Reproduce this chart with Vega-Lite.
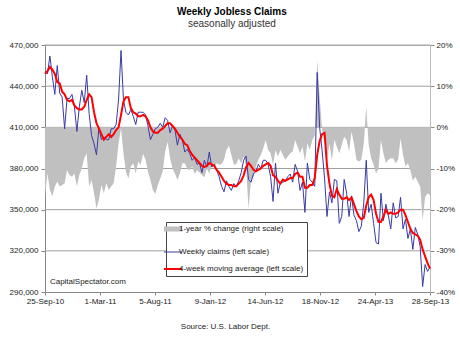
{
  "$schema": "https://vega.github.io/schema/vega-lite/v6.json",
  "autosize": "none",
  "width": 385,
  "height": 247,
  "padding": {"left": 45, "top": 45, "right": 30, "bottom": 49},
  "background": "white",
  "config": {
    "font": "Liberation Sans",
    "view": {"stroke": "#bbbbbb", "strokeWidth": 1}
  },
  "title": {
    "text": "Weekly Jobless Claims",
    "subtitle": "seasonally adjusted",
    "font": "Liberation Sans",
    "fontSize": 10,
    "fontWeight": "bold",
    "color": "#000000",
    "subtitleFont": "Liberation Sans",
    "subtitleFontSize": 10,
    "subtitleColor": "#333333",
    "subtitlePadding": 2,
    "anchor": "middle",
    "frame": "bounds",
    "offset": 12
  },
  "data": {
    "values": [
      {"date": "2010-09-25", "claims": 451000, "avg": 449000, "pct": -16.8},
      {"date": "2010-10-02", "claims": 449000, "avg": 451000, "pct": -11.2},
      {"date": "2010-10-09", "claims": 462000, "avg": 454000, "pct": -15.2},
      {"date": "2010-10-16", "claims": 447000, "avg": 452000, "pct": -16.8},
      {"date": "2010-10-23", "claims": 434000, "avg": 449000, "pct": -14.4},
      {"date": "2010-10-30", "claims": 455000, "avg": 443000, "pct": -13.2},
      {"date": "2010-11-06", "claims": 435000, "avg": 442000, "pct": -14.4},
      {"date": "2010-11-13", "claims": 432000, "avg": 436000, "pct": -14.0},
      {"date": "2010-11-20", "claims": 409000, "avg": 434000, "pct": -13.6},
      {"date": "2010-11-27", "claims": 431000, "avg": 430000, "pct": -10.4},
      {"date": "2010-12-04", "claims": 431000, "avg": 429000, "pct": -11.6},
      {"date": "2010-12-11", "claims": 434000, "avg": 430000, "pct": -12.0},
      {"date": "2010-12-18", "claims": 425000, "avg": 426000, "pct": -11.2},
      {"date": "2010-12-25", "claims": 407000, "avg": 424000, "pct": -14.4},
      {"date": "2011-01-01", "claims": 425000, "avg": 423000, "pct": -11.6},
      {"date": "2011-01-08", "claims": 437000, "avg": 423000, "pct": -10.0},
      {"date": "2011-01-15", "claims": 428000, "avg": 425000, "pct": -7.5},
      {"date": "2011-01-22", "claims": 448000, "avg": 430000, "pct": -6.3},
      {"date": "2011-01-29", "claims": 420000, "avg": 434000, "pct": -14.4},
      {"date": "2011-02-05", "claims": 404000, "avg": 432000, "pct": -12.8},
      {"date": "2011-02-12", "claims": 398000, "avg": 421000, "pct": -16.0},
      {"date": "2011-02-19", "claims": 390000, "avg": 413000, "pct": -19.7},
      {"date": "2011-02-26", "claims": 410000, "avg": 409000, "pct": -17.6},
      {"date": "2011-03-05", "claims": 401000, "avg": 405000, "pct": -14.0},
      {"date": "2011-03-12", "claims": 403000, "avg": 401000, "pct": -16.0},
      {"date": "2011-03-19", "claims": 401000, "avg": 403000, "pct": -13.6},
      {"date": "2011-03-26", "claims": 401000, "avg": 405000, "pct": -15.2},
      {"date": "2011-04-02", "claims": 409000, "avg": 403000, "pct": -14.4},
      {"date": "2011-04-09", "claims": 409000, "avg": 405000, "pct": -13.6},
      {"date": "2011-04-16", "claims": 412000, "avg": 408000, "pct": -9.5},
      {"date": "2011-04-23", "claims": 430000, "avg": 410000, "pct": -3.9},
      {"date": "2011-04-30", "claims": 466000, "avg": 419000, "pct": -0.2},
      {"date": "2011-05-07", "claims": 430000, "avg": 429000, "pct": -6.3},
      {"date": "2011-05-14", "claims": 421000, "avg": 432000, "pct": -10.8},
      {"date": "2011-05-21", "claims": 419000, "avg": 432000, "pct": -12.4},
      {"date": "2011-05-28", "claims": 423000, "avg": 424000, "pct": -9.5},
      {"date": "2011-06-04", "claims": 418000, "avg": 421000, "pct": -8.7},
      {"date": "2011-06-11", "claims": 412000, "avg": 420000, "pct": -11.2},
      {"date": "2011-06-18", "claims": 421000, "avg": 418000, "pct": -8.3},
      {"date": "2011-06-25", "claims": 421000, "avg": 418000, "pct": -9.1},
      {"date": "2011-07-02", "claims": 421000, "avg": 419000, "pct": -6.5},
      {"date": "2011-07-09", "claims": 419000, "avg": 418000, "pct": -7.9},
      {"date": "2011-07-16", "claims": 411000, "avg": 415000, "pct": -10.8},
      {"date": "2011-07-23", "claims": 401000, "avg": 410000, "pct": -12.8},
      {"date": "2011-07-30", "claims": 405000, "avg": 407000, "pct": -15.2},
      {"date": "2011-08-06", "claims": 409000, "avg": 406000, "pct": -16.2},
      {"date": "2011-08-13", "claims": 410000, "avg": 406000, "pct": -14.0},
      {"date": "2011-08-20", "claims": 413000, "avg": 408000, "pct": -12.4},
      {"date": "2011-08-27", "claims": 410000, "avg": 409000, "pct": -10.8},
      {"date": "2011-09-03", "claims": 417000, "avg": 411000, "pct": -5.9},
      {"date": "2011-09-10", "claims": 415000, "avg": 413000, "pct": -3.5},
      {"date": "2011-09-17", "claims": 406000, "avg": 413000, "pct": -7.5},
      {"date": "2011-09-24", "claims": 411000, "avg": 411000, "pct": -10.0},
      {"date": "2011-10-01", "claims": 408000, "avg": 409000, "pct": -11.2},
      {"date": "2011-10-08", "claims": 397000, "avg": 406000, "pct": -12.8},
      {"date": "2011-10-15", "claims": 405000, "avg": 403000, "pct": -11.2},
      {"date": "2011-10-22", "claims": 401000, "avg": 401000, "pct": -8.7},
      {"date": "2011-10-29", "claims": 392000, "avg": 398000, "pct": -8.7},
      {"date": "2011-11-05", "claims": 394000, "avg": 397000, "pct": -10.0},
      {"date": "2011-11-12", "claims": 391000, "avg": 393000, "pct": -10.4},
      {"date": "2011-11-19", "claims": 386000, "avg": 390000, "pct": -9.5},
      {"date": "2011-11-26", "claims": 388000, "avg": 388000, "pct": -11.3},
      {"date": "2011-12-03", "claims": 383000, "avg": 386000, "pct": -10.4},
      {"date": "2011-12-10", "claims": 384000, "avg": 384000, "pct": -11.0},
      {"date": "2011-12-17", "claims": 377000, "avg": 382000, "pct": -11.6},
      {"date": "2011-12-24", "claims": 386000, "avg": 381000, "pct": -12.1},
      {"date": "2011-12-31", "claims": 381000, "avg": 382000, "pct": -10.0},
      {"date": "2012-01-07", "claims": 392000, "avg": 384000, "pct": -11.2},
      {"date": "2012-01-14", "claims": 381000, "avg": 383000, "pct": -9.1},
      {"date": "2012-01-21", "claims": 383000, "avg": 382000, "pct": -9.5},
      {"date": "2012-01-28", "claims": 379000, "avg": 379000, "pct": -8.7},
      {"date": "2012-02-04", "claims": 374000, "avg": 377000, "pct": -9.1},
      {"date": "2012-02-11", "claims": 367000, "avg": 374000, "pct": -8.9},
      {"date": "2012-02-18", "claims": 363000, "avg": 371000, "pct": -7.9},
      {"date": "2012-02-25", "claims": 371000, "avg": 369000, "pct": -5.5},
      {"date": "2012-03-03", "claims": 367000, "avg": 368000, "pct": -4.5},
      {"date": "2012-03-10", "claims": 364000, "avg": 368000, "pct": -6.7},
      {"date": "2012-03-17", "claims": 369000, "avg": 367000, "pct": -9.1},
      {"date": "2012-03-24", "claims": 367000, "avg": 367000, "pct": -8.9},
      {"date": "2012-03-31", "claims": 371000, "avg": 369000, "pct": -7.5},
      {"date": "2012-04-07", "claims": 377000, "avg": 371000, "pct": -8.7},
      {"date": "2012-04-14", "claims": 386000, "avg": 375000, "pct": -7.1},
      {"date": "2012-04-21", "claims": 389000, "avg": 381000, "pct": -9.5},
      {"date": "2012-04-28", "claims": 372000, "avg": 384000, "pct": -19.7},
      {"date": "2012-05-05", "claims": 370000, "avg": 382000, "pct": -12.8},
      {"date": "2012-05-12", "claims": 376000, "avg": 379000, "pct": -12.0},
      {"date": "2012-05-19", "claims": 378000, "avg": 378000, "pct": -9.5},
      {"date": "2012-05-26", "claims": 383000, "avg": 379000, "pct": -7.9},
      {"date": "2012-06-02", "claims": 380000, "avg": 380000, "pct": -6.7},
      {"date": "2012-06-09", "claims": 386000, "avg": 382000, "pct": -5.1},
      {"date": "2012-06-16", "claims": 386000, "avg": 383000, "pct": -3.1},
      {"date": "2012-06-23", "claims": 383000, "avg": 384000, "pct": -5.5},
      {"date": "2012-06-30", "claims": 374000, "avg": 382000, "pct": -6.3},
      {"date": "2012-07-07", "claims": 356000, "avg": 375000, "pct": -9.1},
      {"date": "2012-07-14", "claims": 384000, "avg": 374000, "pct": -5.5},
      {"date": "2012-07-21", "claims": 362000, "avg": 371000, "pct": -7.1},
      {"date": "2012-07-28", "claims": 370000, "avg": 369000, "pct": -5.5},
      {"date": "2012-08-04", "claims": 370000, "avg": 372000, "pct": -6.7},
      {"date": "2012-08-11", "claims": 371000, "avg": 371000, "pct": -7.9},
      {"date": "2012-08-18", "claims": 374000, "avg": 372000, "pct": -7.1},
      {"date": "2012-08-25", "claims": 376000, "avg": 373000, "pct": -6.3},
      {"date": "2012-09-01", "claims": 370000, "avg": 373000, "pct": -5.9},
      {"date": "2012-09-08", "claims": 383000, "avg": 376000, "pct": -3.1},
      {"date": "2012-09-15", "claims": 378000, "avg": 377000, "pct": -4.7},
      {"date": "2012-09-22", "claims": 364000, "avg": 374000, "pct": -6.3},
      {"date": "2012-09-29", "claims": 370000, "avg": 374000, "pct": -4.7},
      {"date": "2012-10-06", "claims": 348000, "avg": 366000, "pct": -8.3},
      {"date": "2012-10-13", "claims": 384000, "avg": 366000, "pct": -3.9},
      {"date": "2012-10-20", "claims": 372000, "avg": 368000, "pct": -5.5},
      {"date": "2012-10-27", "claims": 370000, "avg": 368000, "pct": -3.1},
      {"date": "2012-11-03", "claims": 367000, "avg": 373000, "pct": -1.9},
      {"date": "2012-11-10", "claims": 450000, "avg": 390000, "pct": 16.3},
      {"date": "2012-11-17", "claims": 410000, "avg": 400000, "pct": 7.4},
      {"date": "2012-11-24", "claims": 393000, "avg": 405000, "pct": -0.6},
      {"date": "2012-12-01", "claims": 373000, "avg": 406000, "pct": -3.5},
      {"date": "2012-12-08", "claims": 345000, "avg": 382000, "pct": -8.0},
      {"date": "2012-12-15", "claims": 363000, "avg": 369000, "pct": -4.0},
      {"date": "2012-12-22", "claims": 355000, "avg": 360000, "pct": -8.0},
      {"date": "2012-12-29", "claims": 372000, "avg": 359000, "pct": -3.0},
      {"date": "2013-01-05", "claims": 371000, "avg": 365000, "pct": -4.7},
      {"date": "2013-01-12", "claims": 340000, "avg": 361000, "pct": -6.3},
      {"date": "2013-01-19", "claims": 345000, "avg": 358000, "pct": -4.3},
      {"date": "2013-01-26", "claims": 372000, "avg": 358000, "pct": -2.3},
      {"date": "2013-02-02", "claims": 362000, "avg": 359000, "pct": -3.1},
      {"date": "2013-02-09", "claims": 345000, "avg": 357000, "pct": -5.9},
      {"date": "2013-02-16", "claims": 360000, "avg": 359000, "pct": -1.1},
      {"date": "2013-02-23", "claims": 346000, "avg": 354000, "pct": -3.9},
      {"date": "2013-03-02", "claims": 342000, "avg": 349000, "pct": -7.9},
      {"date": "2013-03-09", "claims": 334000, "avg": 345000, "pct": -8.3},
      {"date": "2013-03-16", "claims": 338000, "avg": 343000, "pct": -7.9},
      {"date": "2013-03-23", "claims": 355000, "avg": 344000, "pct": -3.9},
      {"date": "2013-03-30", "claims": 386000, "avg": 353000, "pct": 5.0},
      {"date": "2013-04-06", "claims": 348000, "avg": 359000, "pct": -4.3},
      {"date": "2013-04-13", "claims": 354000, "avg": 361000, "pct": -7.5},
      {"date": "2013-04-20", "claims": 340000, "avg": 357000, "pct": -9.1},
      {"date": "2013-04-27", "claims": 326000, "avg": 347000, "pct": -11.2},
      {"date": "2013-05-04", "claims": 325000, "avg": 341000, "pct": -10.0},
      {"date": "2013-05-11", "claims": 362000, "avg": 341000, "pct": -3.1},
      {"date": "2013-05-18", "claims": 342000, "avg": 345000, "pct": -6.3},
      {"date": "2013-05-25", "claims": 354000, "avg": 350000, "pct": -8.7},
      {"date": "2013-06-01", "claims": 346000, "avg": 347000, "pct": -7.9},
      {"date": "2013-06-08", "claims": 336000, "avg": 348000, "pct": -7.5},
      {"date": "2013-06-15", "claims": 355000, "avg": 347000, "pct": -7.5},
      {"date": "2013-06-22", "claims": 344000, "avg": 347000, "pct": -8.7},
      {"date": "2013-06-29", "claims": 345000, "avg": 348000, "pct": -7.9},
      {"date": "2013-07-06", "claims": 359000, "avg": 350000, "pct": -2.7},
      {"date": "2013-07-13", "claims": 336000, "avg": 350000, "pct": -6.7},
      {"date": "2013-07-20", "claims": 343000, "avg": 346000, "pct": -9.5},
      {"date": "2013-07-27", "claims": 329000, "avg": 341000, "pct": -8.7},
      {"date": "2013-08-03", "claims": 336000, "avg": 336000, "pct": -10.4},
      {"date": "2013-08-10", "claims": 321000, "avg": 333000, "pct": -13.0},
      {"date": "2013-08-17", "claims": 337000, "avg": 332000, "pct": -12.0},
      {"date": "2013-08-24", "claims": 332000, "avg": 331000, "pct": -13.2},
      {"date": "2013-08-31", "claims": 323000, "avg": 328000, "pct": -14.4},
      {"date": "2013-09-07", "claims": 294000, "avg": 321000, "pct": -22.5},
      {"date": "2013-09-14", "claims": 310000, "avg": 316000, "pct": -17.0},
      {"date": "2013-09-21", "claims": 305000, "avg": 311000, "pct": -16.0},
      {"date": "2013-09-28", "claims": 308000, "avg": 307000, "pct": -16.5}
    ]
  },
  "layer": [
    {
      "data": {"values": [{}]},
      "mark": {"type": "rule", "color": "#a0a0a0", "strokeWidth": 1},
      "encoding": {
        "y": {"datum": 320000, "type": "quantitative", "scale": {"domain": [290000, 470000], "nice": false, "zero": false}, "axis": null}
      }
    },
    {
      "data": {"values": [{}]},
      "mark": {"type": "rule", "color": "#a0a0a0", "strokeWidth": 1},
      "encoding": {
        "y": {"datum": 350000, "type": "quantitative", "scale": {"domain": [290000, 470000], "nice": false, "zero": false}, "axis": null}
      }
    },
    {
      "data": {"values": [{}]},
      "mark": {"type": "rule", "color": "#a0a0a0", "strokeWidth": 1},
      "encoding": {
        "y": {"datum": 380000, "type": "quantitative", "scale": {"domain": [290000, 470000], "nice": false, "zero": false}, "axis": null}
      }
    },
    {
      "data": {"values": [{}]},
      "mark": {"type": "rule", "color": "#a0a0a0", "strokeWidth": 1},
      "encoding": {
        "y": {"datum": 410000, "type": "quantitative", "scale": {"domain": [290000, 470000], "nice": false, "zero": false}, "axis": null}
      }
    },
    {
      "data": {"values": [{}]},
      "mark": {"type": "rule", "color": "#a0a0a0", "strokeWidth": 1},
      "encoding": {
        "y": {"datum": 440000, "type": "quantitative", "scale": {"domain": [290000, 470000], "nice": false, "zero": false}, "axis": null}
      }
    },
    {
      "data": {"values": [{}]},
      "mark": {"type": "rule", "color": "#a0a0a0", "strokeWidth": 1},
      "encoding": {
        "y": {"datum": 470000, "type": "quantitative", "scale": {"domain": [290000, 470000], "nice": false, "zero": false}, "axis": null}
      }
    },
    {
      "mark": {"type": "area", "interpolate": "linear"},
      "encoding": {
        "x": {
          "field": "date",
          "type": "temporal",
          "scale": {
            "type": "utc",
            "domain": ["2010-09-25", "2013-09-28"],
            "nice": false
          },
          "axis": {
            "values": [
              {"year": 2010, "month": 9, "date": 25, "utc": true},
              {"year": 2011, "month": 3, "date": 1, "utc": true},
              {"year": 2011, "month": 8, "date": 5, "utc": true},
              {"year": 2012, "month": 1, "date": 9, "utc": true},
              {"year": 2012, "month": 6, "date": 14, "utc": true},
              {"year": 2012, "month": 11, "date": 18, "utc": true},
              {"year": 2013, "month": 4, "date": 24, "utc": true},
              {"year": 2013, "month": 9, "date": 28, "utc": true}
            ],
            "format": "%-d-%b-%y",
            "labelOverlap": false,
            "labelFlush": false,
            "labelFont": "Liberation Sans",
            "labelFontSize": 8,
            "labelColor": "#222222",
            "labelPadding": 2,
            "tickSize": 3,
            "tickColor": "#888888",
            "domainColor": "#888888",
            "grid": false,
            "title": "Source: U.S. Labor Dept.",
            "titleFont": "Liberation Sans",
            "titleFontSize": 8,
            "titleFontWeight": "normal",
            "titleColor": "#222222",
            "titlePadding": 17,
            "titleX": 180
          }
        },
        "y": {
          "field": "pct",
          "type": "quantitative",
          "scale": {"domain": [-40, 20], "nice": false, "zero": false},
          "axis": {
            "orient": "right",
            "values": [-40, -30, -20, -10, 0, 10, 20],
            "labelExpr": "datum.value + '%'",
            "title": null,
            "grid": false,
            "labelFont": "Liberation Sans",
            "labelFontSize": 8,
            "labelColor": "#222222",
            "labelPadding": 2,
            "tickSize": 4,
            "tickColor": "#888888",
            "domainColor": "#bbbbbb"
          }
        },
        "y2": {"datum": 0},
        "color": {
          "datum": "1-year % change (right scale)",
          "type": "nominal",
          "scale": {
            "domain": ["1-year % change (right scale)", "Weekly claims (left scale)", "4-week moving average (left scale)"],
            "range": ["#c0c0c0", "#3a3aa6", "#ff0000"]
          },
          "legend": {
            "title": null,
            "orient": "none",
            "legendX": 121,
            "legendY": 177,
            "direction": "vertical",
            "strokeColor": "#444444",
            "fillColor": "#ffffff",
            "padding": 3,
            "symbolType": "stroke",
            "symbolSize": 324,
            "symbolStrokeWidth": 2,
            "labelFont": "Liberation Sans",
            "labelFontSize": 8,
            "labelColor": "#222222",
            "labelOffset": 2,
            "labelLimit": 0,
            "rowPadding": 9,
            "encode": {
              "symbols": {
                "update": {
                  "strokeWidth": {"signal": "datum.value === '1-year % change (right scale)' ? 5 : (datum.value === 'Weekly claims (left scale)' ? 1 : 2)"},
                  "stroke": {"scale": "color", "field": "value"},
                  "fill": {"value": "transparent"}
                }
              }
            }
          }
        }
      }
    },
    {
      "mark": {"type": "line", "strokeWidth": 1},
      "encoding": {
        "x": {"field": "date", "type": "temporal"},
        "y": {
          "field": "claims",
          "type": "quantitative",
          "scale": {"domain": [290000, 470000], "nice": false, "zero": false},
          "axis": {
            "orient": "left",
            "values": [290000, 320000, 350000, 380000, 410000, 440000, 470000],
            "format": ",.0f",
            "title": null,
            "grid": false,
            "labelFont": "Liberation Sans",
            "labelFontSize": 8,
            "labelColor": "#222222",
            "labelPadding": 3,
            "tickSize": 4,
            "tickColor": "#888888",
            "domainColor": "#888888"
          }
        },
        "color": {"datum": "Weekly claims (left scale)", "type": "nominal"}
      }
    },
    {
      "mark": {"type": "line", "strokeWidth": 2},
      "encoding": {
        "x": {"field": "date", "type": "temporal"},
        "y": {
          "field": "avg",
          "type": "quantitative",
          "scale": {"domain": [290000, 470000], "nice": false, "zero": false},
          "axis": null
        },
        "color": {"datum": "4-week moving average (left scale)", "type": "nominal"}
      }
    },
    {
      "transform": [{"filter": "utcyear(datum.date) === 2010 && utcmonth(datum.date) === 9 && utcdate(datum.date) === 9"}],
      "mark": {"type": "text", "align": "left", "baseline": "middle", "font": "Liberation Sans", "fontSize": 8, "fill": "#222222"},
      "encoding": {
        "x": {"field": "date", "type": "temporal"},
        "y": {
          "datum": 297000,
          "type": "quantitative",
          "scale": {"domain": [290000, 470000], "nice": false, "zero": false},
          "axis": null
        },
        "text": {"value": "CapitalSpectator.com"}
      }
    }
  ],
  "resolve": {"scale": {"y": "independent"}}
}
